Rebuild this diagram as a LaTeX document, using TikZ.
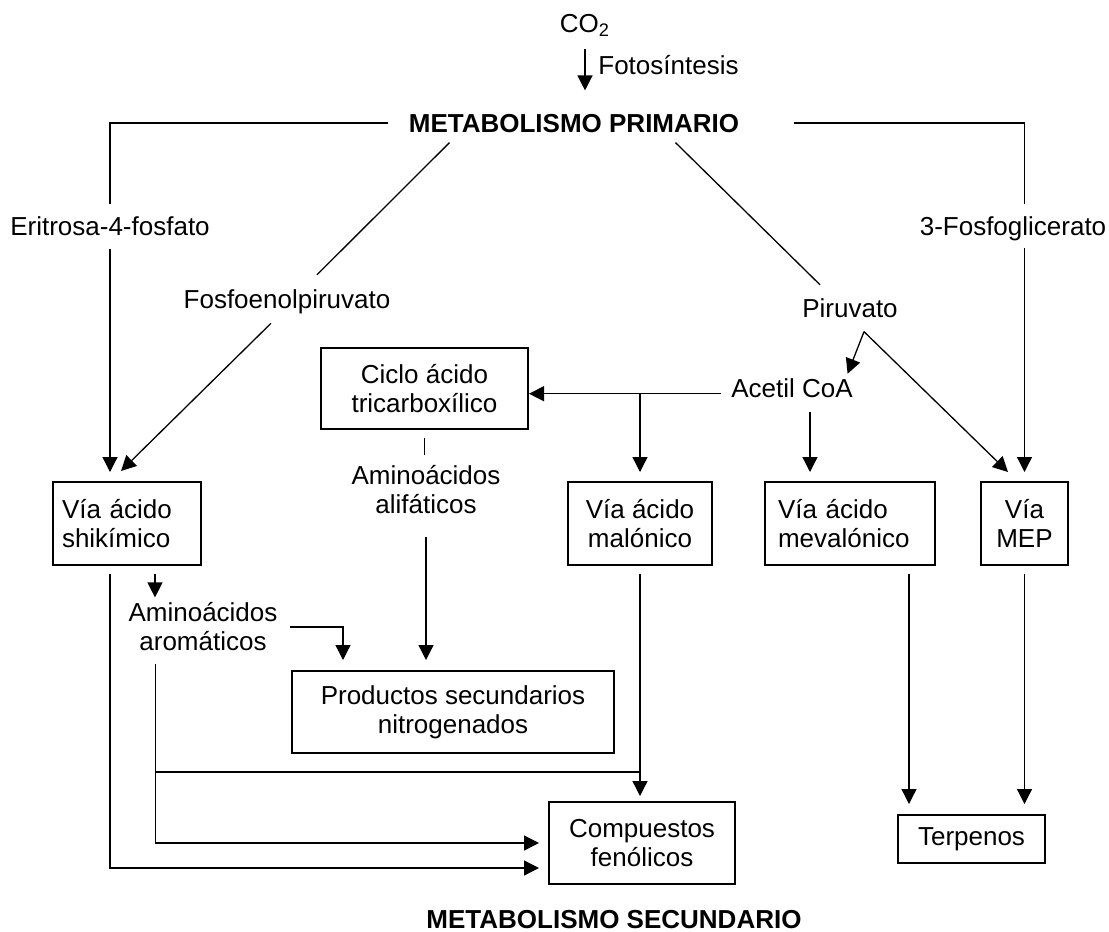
\documentclass[tikz,border=0pt]{standalone}
\usepackage{fontspec}
\setmainfont{Liberation Sans}
\usetikzlibrary{arrows.meta}

\begin{document}
\begin{tikzpicture}[x=0.5pt,y=0.5pt]
\tikzstyle{every node}+=[inner sep=0pt,font=\fontsize{13}{14.5}\selectfont]
\tikzstyle{negrita}=[font=\fontsize{13}{14.5}\selectfont\bfseries]
\tikzstyle{caja}=[draw=black,line width=1pt,align=center]
\tikzstyle{linea}=[black,line width=0.65pt]
\tikzstyle{flecha}=[black,line width=0.65pt,-{Triangle[length=7.5pt,width=7.5pt]}]
\useasboundingbox (0,0) rectangle (1109,-932);
\node [anchor=base] (co2) at (585,-32) {CO\textsubscript{2}};
\node [anchor=base west] (fotos) at (598,-74) {Fotosíntesis};
\node [anchor=base,negrita] (primario) at (574,-132) {METABOLISMO PRIMARIO};
\node [anchor=base] (eritrosa) at (110,-235) {Eritrosa-4-fosfato};
\node [anchor=base] (fosfo3) at (1013,-235) {3-Fosfoglicerato};
\node [anchor=base] (fosfoenol) at (287,-308) {Fosfoenolpiruvato};
\node [anchor=base] (piruvato) at (850,-317) {Piruvato};
\node [anchor=base] (acetil) at (792,-397) {Acetil CoA};
\node [caja,minimum width=103.5pt,minimum height=40.5pt] (ciclo) at (424.5,-388.5) {Ciclo ácido\\tricarboxílico};
\node [align=center] (alif) at (426,-490) {Aminoácidos\\alifáticos};
\node [caja,text width=65pt,align=left,inner xsep=4.5pt,minimum height=41.5pt] (shik) at (127,-523.5) {Vía ácido\\shikímico};
\node [caja,minimum width=72pt,minimum height=41.5pt] (malon) at (640,-523.5) {Vía ácido\\malónico};
\node [caja,text width=72pt,align=left,inner xsep=6.5pt,minimum height=41.5pt] (meval) at (850,-523.5) {Vía ácido\\mevalónico};
\node [caja,minimum width=43.5pt,minimum height=41.5pt] (mep) at (1024.5,-523.5) {Vía\\MEP};
\node [align=center] (arom) at (203,-627) {Aminoácidos\\aromáticos};
\node [caja,minimum width=161pt,minimum height=41pt] (prod) at (453,-712) {Productos secundarios\\nitrogenados};
\node [caja,minimum width=93pt,minimum height=41pt] (comp) at (642,-843) {Compuestos\\fenólicos};
\node [caja,minimum width=73.5pt,minimum height=24pt] (terp) at (971.5,-839) {Terpenos};
\node [anchor=base,negrita] (secund) at (614,-928) {METABOLISMO SECUNDARIO};
\draw [flecha,shorten <=6pt,shorten >=11.5pt] (co2.south) -- (co2.south |- primario.north);
\draw [linea,shorten <=10pt,shorten >=6pt] (primario.west) -| (eritrosa.north);
\draw [flecha,shorten <=6.5pt,shorten >=4.5pt] (eritrosa.south) -- (eritrosa.south |- shik.north);
\draw [linea,shorten <=27pt,shorten >=6pt] (primario.east) -| (mep.north |- fosfo3.north);
\draw [flecha,shorten <=3.75pt,shorten >=4.5pt] (mep.north |- fosfo3.south) -- (mep.north);
\draw [linea] ([xshift=20.5pt,yshift=-5pt]primario.south west) -- ([xshift=15pt,yshift=7pt]fosfoenol.north);
\draw [flecha] ([xshift=-8pt,yshift=-4.75pt]fosfoenol.south) -- ([xshift=-3pt,yshift=5pt]shik.north);
\draw [linea] ([xshift=-32pt,yshift=-5pt]primario.south east) -- ([xshift=-15pt,yshift=6.5pt]piruvato.north);
\coordinate (pirbase) at ([xshift=7pt,yshift=-7pt]piruvato.south);
\draw [flecha] (pirbase) -- ([xshift=-2.75pt,yshift=2pt]acetil.north east);
\draw [flecha] (pirbase) -- ([xshift=-8.25pt,yshift=4.5pt]mep.north);
\coordinate (acoa) at ([yshift=-3pt]acetil.west);
\draw [flecha,shorten <=5pt] (acoa) -- (acoa -| ciclo.east);
\draw [flecha,shorten >=4.5pt] (acoa -| malon.north) -- (malon.north);
\draw [flecha,shorten <=7pt,shorten >=4.5pt] ([xshift=9pt]acetil.south) -- ([xshift=9pt]acetil.south |- meval.north);
\draw [linea,shorten <=4pt,shorten >=5pt] (ciclo.south) -- (ciclo.south |- alif.north);
\draw [flecha,shorten <=11pt,shorten >=5pt] (alif.south) -- (alif.south |- prod.north);
\draw [flecha,shorten <=4pt,shorten >=2.5pt] ([xshift=14pt]shik.south) -- ([xshift=14pt]shik.south |- arom.north);
\draw [flecha,shorten <=6.25pt,shorten >=5pt] (arom.east) -| ([xshift=26pt]prod.north west);
\coordinate (aromx) at ([xshift=13.75pt,yshift=-6pt]arom.south west);
\draw [flecha,shorten >=4.5pt] (aromx) |- (comp.west);
\coordinate (cruce) at ([yshift=-9pt]prod.south -| malon.south);
\draw [linea] (cruce -| aromx) -- (cruce);
\draw [flecha,shorten <=4pt,shorten >=2.5pt] (malon.south) -- (malon.south |- comp.north);
\draw [flecha,shorten <=4pt,shorten >=4.5pt] ([xshift=-8.5pt]shik.south) |- ([yshift=-12.5pt]comp.west);
\draw [flecha,shorten <=4pt,shorten >=5pt] ([xshift=29.5pt]meval.south) -- ([xshift=29.5pt]meval.south |- terp.north);
\draw [flecha,shorten <=4pt,shorten >=5pt] (mep.south) -- (mep.south |- terp.north);
\end{tikzpicture}
\end{document}
